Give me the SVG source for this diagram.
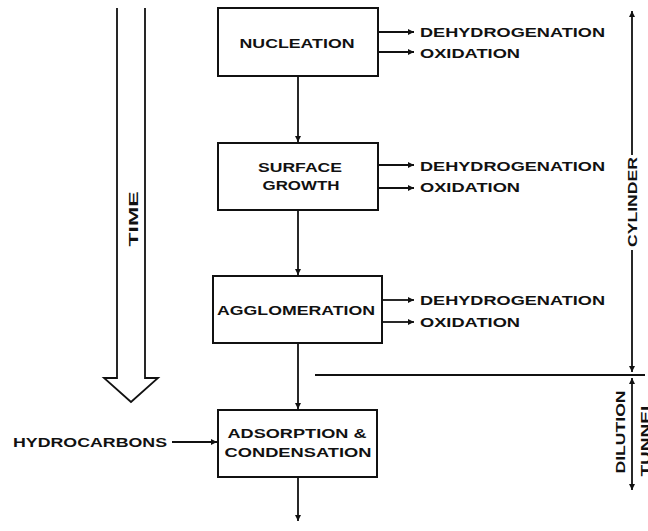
<svg xmlns="http://www.w3.org/2000/svg" width="648" height="531" viewBox="0 0 648 531">
<style>
.box{fill:#fff;stroke:#111;stroke-width:2}
.t{font-family:"Liberation Sans",Arial,sans-serif;font-weight:bold;font-size:13.5px;fill:#111}
.c{text-anchor:middle}
.ln{stroke:#111;stroke-width:1.8;fill:none}
</style>
<defs>
<marker id="ah" viewBox="0 0 10 10" refX="10" refY="5" markerWidth="9" markerHeight="6" markerUnits="userSpaceOnUse" orient="auto">
<path d="M0,0 L10,5 L0,10 z" fill="#111"/>
</marker>
</defs>
<rect width="648" height="531" fill="#fff"/>

<g id="time-arrow">
<path class="ln" d="M117,8 V378 H104 L131,402 L158,378 H145 V8"/>
<text class="t c" transform="translate(138,219) rotate(-90)" font-size="17" textLength="55" lengthAdjust="spacingAndGlyphs">TIME</text>
</g>

<g id="nucleation">
<rect class="box" x="218" y="8" width="160" height="68"/>
<text class="t c" x="297" y="48" textLength="115" lengthAdjust="spacingAndGlyphs">NUCLEATION</text>
</g>

<g id="surface-growth">
<rect class="box" x="218" y="143" width="160" height="67"/>
<text class="t c" x="300" y="172" textLength="84" lengthAdjust="spacingAndGlyphs">SURFACE</text>
<text class="t c" x="301" y="190" textLength="77" lengthAdjust="spacingAndGlyphs">GROWTH</text>
</g>

<g id="agglomeration">
<rect class="box" x="213" y="276" width="169" height="67"/>
<text class="t c" x="296" y="315" textLength="158" lengthAdjust="spacingAndGlyphs">AGGLOMERATION</text>
</g>

<g id="adsorption">
<rect class="box" x="218" y="410" width="159" height="67"/>
<text class="t c" x="297" y="438" textLength="139" lengthAdjust="spacingAndGlyphs">ADSORPTION &amp;</text>
<text class="t c" x="298" y="457" textLength="147" lengthAdjust="spacingAndGlyphs">CONDENSATION</text>
</g>

<g id="labels">
<text class="t" x="420" y="37" textLength="185" lengthAdjust="spacingAndGlyphs">DEHYDROGENATION</text>
<text class="t" x="420" y="58" textLength="100" lengthAdjust="spacingAndGlyphs">OXIDATION</text>
<text class="t" x="420" y="171" textLength="185" lengthAdjust="spacingAndGlyphs">DEHYDROGENATION</text>
<text class="t" x="420" y="192" textLength="100" lengthAdjust="spacingAndGlyphs">OXIDATION</text>
<text class="t" x="420" y="305" textLength="185" lengthAdjust="spacingAndGlyphs">DEHYDROGENATION</text>
<text class="t" x="420" y="327" textLength="100" lengthAdjust="spacingAndGlyphs">OXIDATION</text>
<text class="t" x="13" y="447" textLength="154" lengthAdjust="spacingAndGlyphs">HYDROCARBONS</text>
<text class="t c" transform="translate(637,202) rotate(-90)" textLength="90" lengthAdjust="spacingAndGlyphs" font-size="13">CYLINDER</text>
<text class="t c" transform="translate(625,432) rotate(-90)" textLength="83" lengthAdjust="spacingAndGlyphs" font-size="13">DILUTION</text>
<text class="t c" transform="translate(650,438) rotate(-90)" textLength="77" lengthAdjust="spacingAndGlyphs" font-size="13">TUNNEL</text>
</g>

<g id="connectors">
<line class="ln" x1="298" y1="76" x2="298" y2="142" marker-end="url(#ah)"/>
<line class="ln" x1="298" y1="210" x2="298" y2="275" marker-end="url(#ah)"/>
<line class="ln" x1="298" y1="343" x2="298" y2="409" marker-end="url(#ah)"/>
<line class="ln" x1="298" y1="477" x2="298" y2="521" marker-end="url(#ah)"/>
<line class="ln" x1="378" y1="32" x2="414" y2="32" marker-end="url(#ah)"/>
<line class="ln" x1="378" y1="52" x2="414" y2="52" marker-end="url(#ah)"/>
<line class="ln" x1="378" y1="165" x2="414" y2="165" marker-end="url(#ah)"/>
<line class="ln" x1="378" y1="188" x2="414" y2="188" marker-end="url(#ah)"/>
<line class="ln" x1="382" y1="300" x2="414" y2="300" marker-end="url(#ah)"/>
<line class="ln" x1="382" y1="322" x2="414" y2="322" marker-end="url(#ah)"/>
<line class="ln" x1="172" y1="442" x2="217" y2="442" marker-end="url(#ah)"/>
<line class="ln" x1="315" y1="375" x2="645" y2="375"/>
<line class="ln" x1="632" y1="155" x2="632" y2="11" marker-end="url(#ah)"/>
<line class="ln" x1="632" y1="250" x2="632" y2="372" marker-end="url(#ah)"/>
<line class="ln" x1="632" y1="430" x2="632" y2="378" marker-end="url(#ah)"/>
<line class="ln" x1="632" y1="430" x2="632" y2="490" marker-end="url(#ah)"/>
</g>
</svg>
